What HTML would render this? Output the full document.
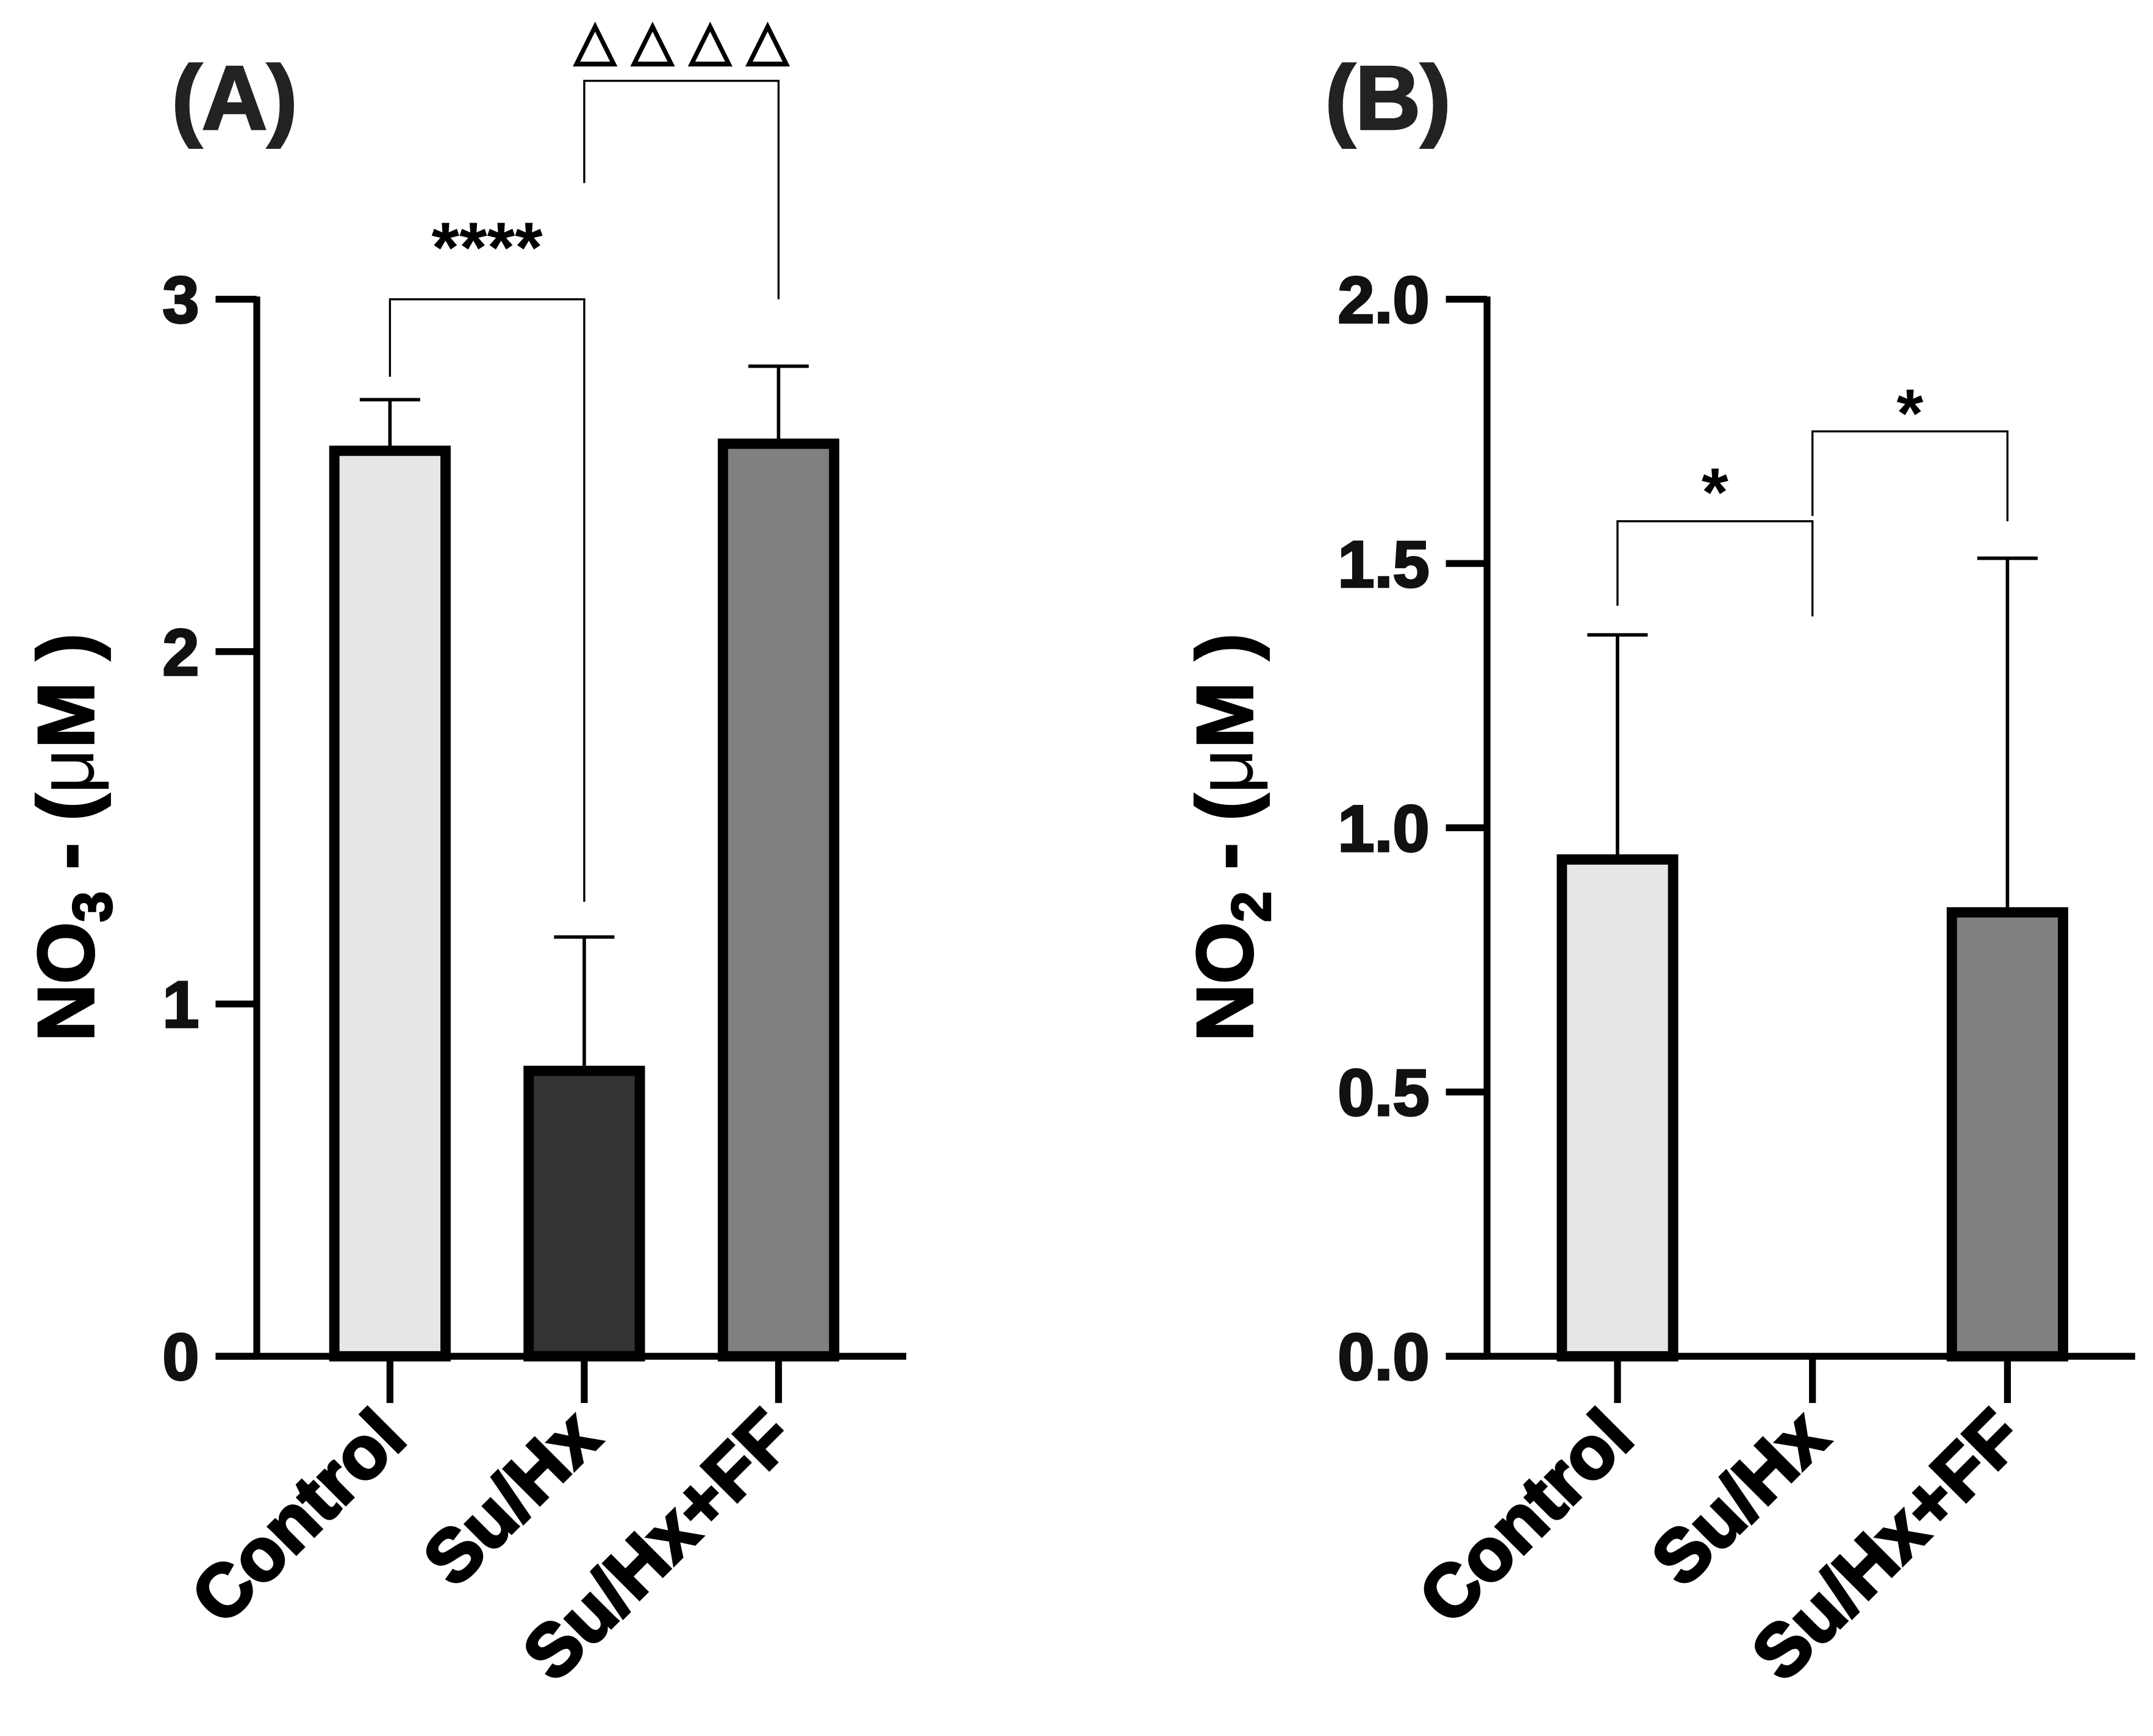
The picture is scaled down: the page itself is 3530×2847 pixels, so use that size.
<!DOCTYPE html>
<html><head><meta charset="utf-8"><style>html,body{margin:0;padding:0;background:#fff}svg{display:block}text{font-family:"Liberation Sans",Arial,sans-serif;font-weight:bold}</style></head>
<body>
<svg id="fig" width="3530" height="2847" viewBox="0 0 1568 1264.6" xmlns="http://www.w3.org/2000/svg"></svg>
<script>
const categories = ["Control", "Su/Hx", "Su/Hx+FF"];
const fills = ["#e6e6e6", "#333333", "#808080"];
const nitrateMeans = [2.57, 0.81, 2.59];
const nitrateErrors = [0.145, 0.38, 0.22];
const nitriteMeans = [0.94, 0, 0.84];
const nitriteErrors = [0.425, 0, 0.67];
const ticksA = [0, 1, 2, 3];
const ticksALabels = ["0", "1", "2", "3"];
const ticksB = [0, 0.5, 1.0, 1.5, 2.0];
const ticksBLabels = ["0.0", "0.5", "1.0", "1.5", "2.0"];

const NS = "http://www.w3.org/2000/svg";
const svg = document.getElementById("fig");
function mk(tag, attrs, parent) {
  const e = document.createElementNS(NS, tag);
  for (const k in attrs) e.setAttribute(k, attrs[k]);
  (parent || svg).appendChild(e);
  return e;
}

function panel(cfg) {
  const g = mk("g", {});
  
  
  const y = v => cfg.y0 - (v / cfg.ymax) * (cfg.y0 - cfg.yTop);
  const x = i => cfg.x0 + i * cfg.step;
  cfg.means.forEach((m, i) => {
    if (m <= 0) return;
    const top = y(m);
    const err = mk("line", {x1: x(i), x2: x(i), y1: top, y2: y(m + cfg.errs[i]), stroke: "#000", "stroke-width": 2.5}, g);
    
    
    const cap = mk("line", {x1: x(i) - 22, x2: x(i) + 22, y1: y(m + cfg.errs[i]), y2: y(m + cfg.errs[i]), stroke: "#000", "stroke-width": 2.5}, g);
    
    
    const r = mk("rect", {x: x(i) - 40.5, y: top, width: 81, height: cfg.y0 - top, fill: fills[i], stroke: "#000", "stroke-width": 7.5}, g);
    
    
  });
  const ya = mk("line", {x1: cfg.axX, x2: cfg.axX, y1: cfg.yTop - 2, y2: cfg.y0 + 2, stroke: "#000", "stroke-width": 5}, g);
  
  
  const xa = mk("line", {x1: cfg.axX - 30, x2: cfg.xEnd, y1: cfg.y0, y2: cfg.y0, stroke: "#000", "stroke-width": 5}, g);
  
  
  cfg.ticks.forEach((t, k) => {
    const tl = mk("line", {x1: cfg.axX - 30, x2: cfg.axX, y1: y(t), y2: y(t), stroke: "#000", "stroke-width": 5}, g);
    
    
    const tx = mk("text", {x: cfg.axX - 42, y: y(t) + 17, "text-anchor": "end", "font-size": 48, fill: "#111", stroke: "#111", "stroke-width": 1.5}, g);
    tx.textContent = cfg.tickLabels[k];
    
    
  });
  categories.forEach((c, i) => {
    const tl = mk("line", {x1: x(i), x2: x(i), y1: cfg.y0, y2: cfg.y0 + 34, stroke: "#000", "stroke-width": 5}, g);
    
    
    const tx = mk("text", {x: x(i) + 14, y: cfg.y0 + 62, "text-anchor": "end", "font-size": 54, fill: "#000", stroke: "#000", "stroke-width": 2, transform: `rotate(-45 ${x(i) + 14} ${cfg.y0 + 62})`}, g);
    tx.textContent = c;
    
    
  });
  const t = mk("text", {x: 0, y: 0, "text-anchor": "middle", "font-size": 58, stroke: "#000", "stroke-width": 1.5, transform: `translate(${cfg.titleX} ${cfg.titleY}) rotate(-90)`}, g);
  
  
  t.innerHTML = cfg.titleSub;
  const pl = mk("text", {x: cfg.labelX, y: 94, "font-size": 66, fill: "#222", stroke: "#222", "stroke-width": 1.5}, g);
  pl.textContent = cfg.label;
  
  
  cfg.brackets.forEach(b => {
    const p = mk("path", {d: `M${x(b.i)},${y(b.l)} V${y(b.h)} H${x(b.j)} V${y(b.r)}`, fill: "none", stroke: "#000", "stroke-width": 1.5}, g);
    
    
    const s = mk("text", {x: (x(b.i) + x(b.j)) / 2, y: y(b.h) - b.dy, "text-anchor": "middle", "font-size": b.fs, "font-weight": b.fw}, g);
    s.textContent = b.txt;
    
    
  });
}

panel({name: "panel-a", label: "(A)", labelX: 125, axX: 187, xEnd: 660, y0: 988, yTop: 218, ymax: 3, x0: 284, step: 141.5,
  means: nitrateMeans, errs: nitrateErrors, ticks: ticksA, tickLabels: ticksALabels, titleX: 68, titleY: 610,
  titleSub: 'NO<tspan font-size="40" dy="13">3</tspan><tspan dy="-13"> - (</tspan><tspan font-weight="normal" stroke-width="0">μ</tspan>M )',
  brackets: [
    {i: 0, j: 1, l: 2.78, h: 3, r: 1.29, txt: "****", dy: 20, fs: 52, fw: "bold"},
    {i: 1, j: 2, l: 3.33, h: 3.62, r: 3, txt: "△ △ △ △", dy: 16, fs: 40, fw: "normal"}
  ]});
panel({name: "panel-b", label: "(B)", labelX: 965, axX: 1083, xEnd: 1555, y0: 988, yTop: 218, ymax: 2, x0: 1178, step: 142,
  means: nitriteMeans, errs: nitriteErrors, ticks: ticksB, tickLabels: ticksBLabels, titleX: 912, titleY: 610,
  titleSub: 'NO<tspan font-size="40" dy="13">2</tspan><tspan dy="-13"> - (</tspan><tspan font-weight="normal" stroke-width="0">μ</tspan>M )',
  brackets: [
    {i: 0, j: 1, l: 1.42, h: 1.58, r: 1.40, txt: "*", dy: 4, fs: 50, fw: "bold"},
    {i: 1, j: 2, l: 1.59, h: 1.75, r: 1.58, txt: "*", dy: -4, fs: 50, fw: "bold"}
  ]});
</script>
</body></html>
